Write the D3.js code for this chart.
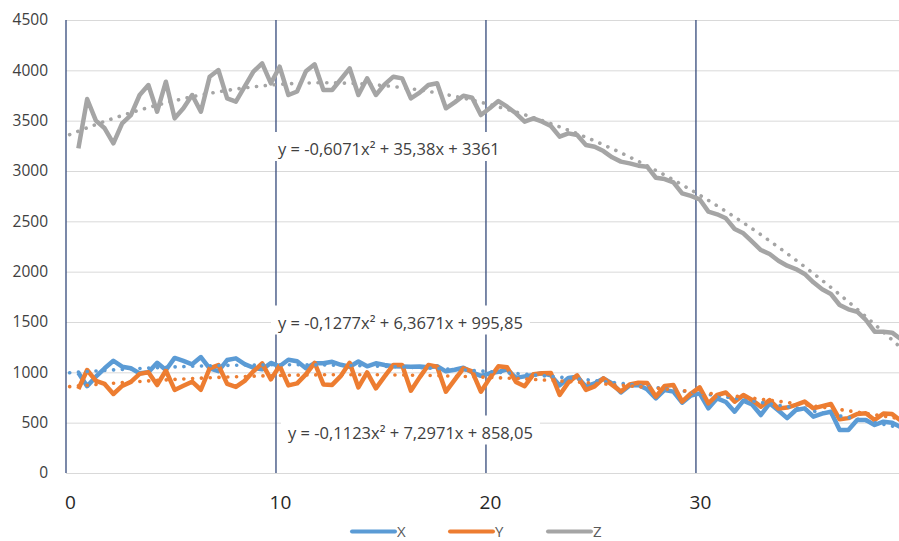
<!DOCTYPE html>
<html>
<head>
<meta charset="utf-8">
<script src="https://cdn.jsdelivr.net/npm/d3@7"></script>
<style>
  body { margin: 0; background: #fff; }
  svg text { font-family: "Open Sans", sans-serif; }
</style>
</head>
<body>
<script>
// series, one value per sample (sample 1..95)
const seriesNames = ["X", "Y", "Z"];
const seriesColors = ["#5b9bd5", "#ed7d31", "#a5a5a5"];

const xValues = [
  995, 862, 957, 1040, 1115, 1056, 1040, 990, 1000, 1095,
  1023, 1143, 1113, 1080, 1152, 1040, 1012, 1122, 1139, 1082,
  1045, 1030, 1093, 1060, 1125, 1110, 1040, 1090, 1090, 1105,
  1075, 1056, 1108, 1060, 1090, 1073, 1060, 1057, 1055, 1057,
  1050, 1060, 1010, 1025, 1045, 1000, 965, 990, 1005, 1030,
  945, 960, 975, 990, 970, 870, 945, 957, 860, 890,
  940, 890, 800, 870, 874, 831, 742, 825, 808, 699,
  770, 791, 642, 742, 705, 609, 719, 680, 576, 692,
  620, 545, 626, 642, 560, 590, 609, 427, 427, 527,
  527, 477, 510, 500, 455
];
const yValues = [
  835, 1023, 915, 885, 785, 865, 905, 985, 1000, 874,
  1018, 825, 866, 907, 827, 1040, 1073, 885, 855, 915,
  1010, 1089, 930, 1065, 870, 890, 980, 1095, 880, 875,
  965, 1095, 850, 1000, 841, 960, 1073, 1073, 818, 950,
  1073, 1056, 808, 925, 1040, 1010, 808, 940, 1060, 1050,
  905, 862, 980, 990, 993, 775, 900, 970, 825, 860,
  940, 875, 810, 880, 897, 895, 758, 864, 874, 709,
  790, 851, 692, 775, 800, 709, 775, 725, 659, 725,
  640, 650, 676, 709, 642, 665, 686, 533, 545, 586,
  593, 527, 590, 585, 520
];
const zValues = [
  3225, 3715, 3500, 3424, 3275, 3474, 3556, 3755, 3854, 3589,
  3887, 3523, 3623, 3755, 3589, 3937, 4003, 3722, 3689, 3838,
  3987, 4070, 3871, 4036, 3755, 3790, 3990, 4060, 3805, 3805,
  3911, 4020, 3755, 3921, 3755, 3861, 3937, 3920, 3722, 3778,
  3854, 3871, 3623, 3682, 3748, 3728, 3556, 3623, 3695, 3639,
  3573, 3490, 3523, 3490, 3447, 3341, 3374, 3357, 3258, 3241,
  3198, 3136, 3093, 3076, 3053, 3043, 2933, 2920, 2887, 2778,
  2752, 2719, 2596, 2570, 2530, 2424, 2381, 2298, 2215, 2175,
  2109, 2059, 2026, 1977, 1894, 1825, 1778, 1669, 1626, 1602,
  1520, 1404, 1404, 1394, 1330
];

// polynomial trendlines (x = sample number), as printed on the chart
const trendCoefs = [[-0.1277, 6.3671, 995.85], [-0.1123, 7.2971, 858.05], [-0.6071, 35.38, 3361]];
const trendLabels = [
  "y = -0,1277x² + 6,3671x + 995,85",
  "y = -0,1123x² + 7,2971x + 858,05",
  "y = -0,6071x² + 35,38x + 3361"
];

const yTicks = [0, 500, 1000, 1500, 2000, 2500, 3000, 3500, 4000, 4500];
const xTicks = [0, 10, 20, 30];

// time of sample n on the horizontal axis
const sampleStart = 0.59;
const sampleStep = 0.4167;
const timeOf = n => sampleStart + sampleStep * (n - 1);

let width = 899;
let height = 541;
let plotLeft = 66, plotTop = 20, plotBottom = 473;

let svg = d3.select("body").append("svg")
  .attr("width", width)
  .attr("height", height);

let x = d3.scaleLinear().domain([0, 39.67]).range([plotLeft, width]);
let y = d3.scaleLinear().domain([0, 4500]).range([plotBottom, plotTop]);

// horizontal gridlines + y labels
let yAxis = svg.append("g")
  .attr("transform", `translate(${plotLeft},0)`)
  .call(d3.axisLeft(y).tickValues(yTicks).tickFormat(d3.format("d"))
    .tickSize(-(width - plotLeft)).tickPadding(18));
yAxis.select(".domain").remove();
yAxis.selectAll(".tick line").attr("stroke", "#d9d9d9").attr("stroke-width", 1);
yAxis.selectAll(".tick text")
  .attr("fill", "#404040")
  .style("font-size", "15.5px");

// x labels
let xAxis = svg.append("g")
  .attr("transform", `translate(0,${plotBottom})`)
  .call(d3.axisBottom(x).tickValues(xTicks).tickSize(0).tickPadding(23));
xAxis.select(".domain").remove();
xAxis.selectAll(".tick text")
  .attr("x", 4)
  .attr("fill", "#262626")
  .style("font-size", "19px");

// dark vertical markers
svg.append("g").selectAll("line")
  .data(xTicks)
  .join("line")
  .attr("x1", d => x(d)).attr("x2", d => x(d))
  .attr("y1", y(4500)).attr("y2", y(0))
  .attr("stroke", "#34497a")
  .attr("stroke-width", 1.3);

let allSeries = [xValues, yValues, zValues];

let line = d3.line()
  .x((d, i) => x(timeOf(i + 1)))
  .y(d => y(d));

svg.append("g").selectAll("path")
  .data(allSeries)
  .join("path")
  .attr("d", d => line(d))
  .attr("fill", "none")
  .attr("stroke", (d, i) => seriesColors[i])
  .attr("stroke-width", 4.5)
  .attr("stroke-linejoin", "round");

// trendlines
let nSteps = d3.range(0, 96.01, 0.25).filter(n => x(timeOf(n)) <= width);

svg.append("g").selectAll("path")
  .data(trendCoefs)
  .join("path")
  .attr("d", c => d3.line()
      .x(n => x(timeOf(n)))
      .y(n => y(c[0] * n * n + c[1] * n + c[2]))(nSteps))
  .attr("fill", "none")
  .attr("stroke", (d, i) => seriesColors[i])
  .attr("stroke-width", 3.6)
  .attr("stroke-linecap", "round")
  .attr("stroke-dasharray", "0.1 8.7");

// equation labels
let eqPos = [[278, 328.5], [288, 438.5], [278, 155]];
let eq = svg.append("g").selectAll("g")
  .data(trendLabels)
  .join("g");
eq.append("text")
  .attr("x", (d, i) => eqPos[i][0])
  .attr("y", (d, i) => eqPos[i][1])
  .attr("fill", "#404040")
  .style("font-size", "16.5px")
  .text(d => d);
eq.each(function() {
  let g = d3.select(this);
  let b = g.select("text").node().getBBox();
  g.insert("rect", "text")
    .attr("x", b.x - 7)
    .attr("y", b.y - 5)
    .attr("width", b.width + 14)
    .attr("height", b.height + 6)
    .attr("fill", "#fff");
});

// legend
let legend = svg.append("g").selectAll("g")
  .data(seriesNames)
  .join("g")
  .attr("transform", (d, i) => `translate(${352 + i * 98},531.5)`);
legend.append("line")
  .attr("x1", 0).attr("x2", 43)
  .attr("stroke", (d, i) => seriesColors[i])
  .attr("stroke-width", 4)
  .attr("stroke-linecap", "round");
legend.append("text")
  .attr("x", 45)
  .attr("dy", "0.36em")
  .attr("fill", "#595959")
  .style("font-size", "15px")
  .text(d => d);
</script>
</body>
</html>
